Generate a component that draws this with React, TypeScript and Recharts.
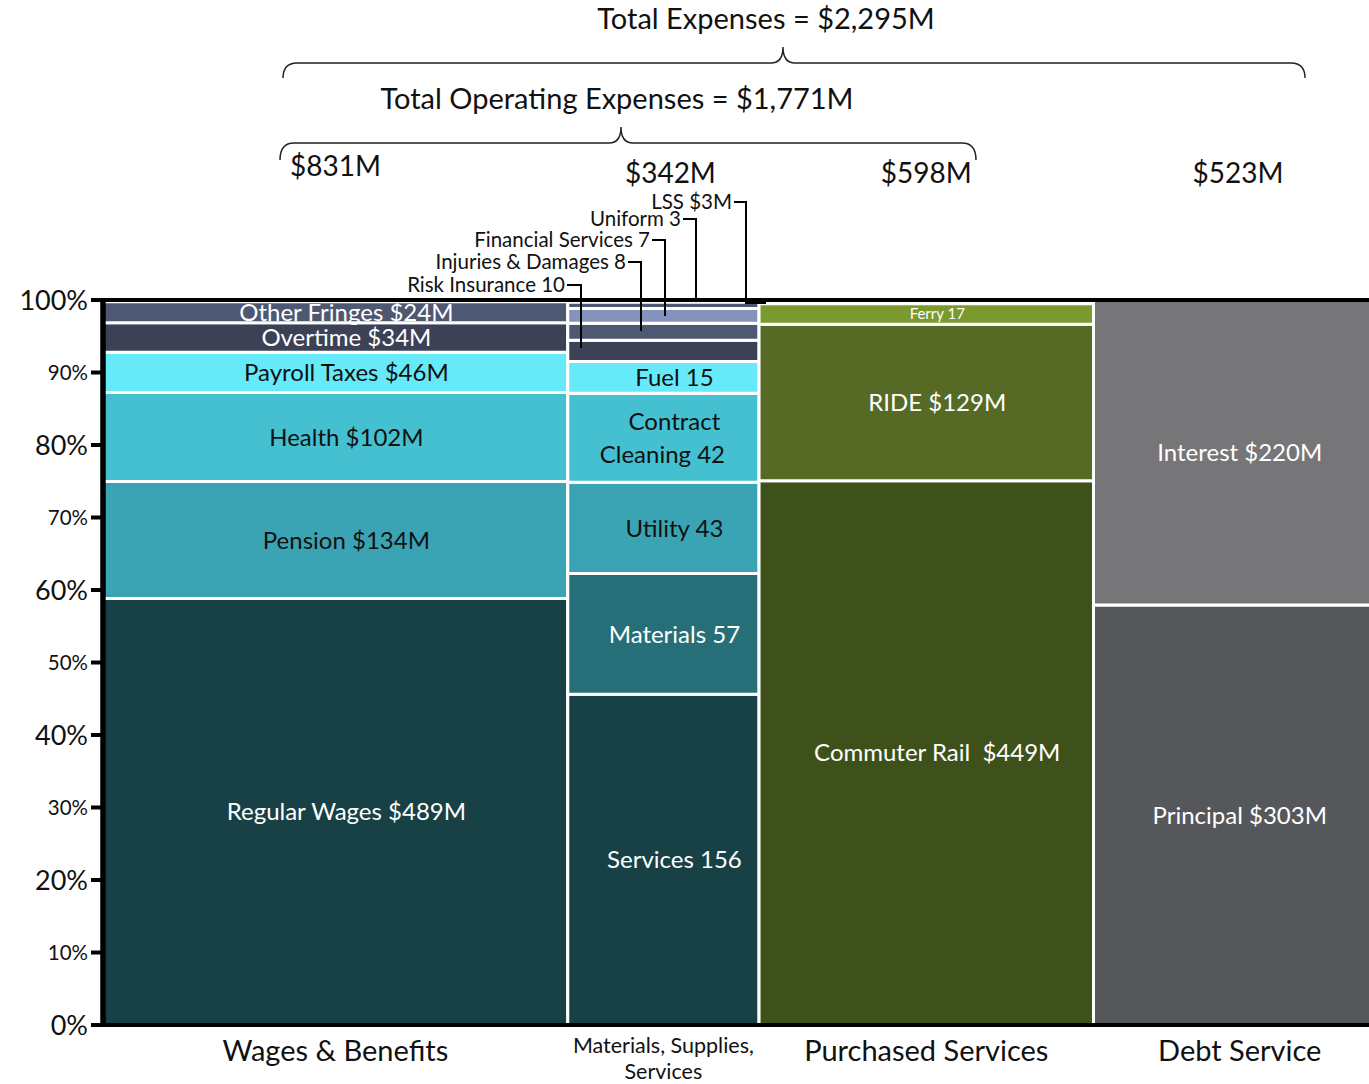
import React from 'react';
import { ComposedChart, XAxis, YAxis, ReferenceArea, ReferenceLine } from 'recharts';

const FONT = 'Lato, "Open Sans", sans-serif';

// columns of the mekko: name and total ($M)
const columns = ['Wages & Benefits', 'Materials, Supplies, Services', 'Purchased Services', 'Debt Service'];
const columnTotals = [831, 342, 598, 523];

// segments inside each column, bottom to top ($M)
const wagesItems = ['Regular Wages', 'Pension', 'Health', 'Payroll Taxes', 'Overtime', 'Other Fringes'];
const wagesValues = [489, 134, 102, 46, 34, 24];
const materialsItems = ['Services', 'Materials', 'Utility', 'Contract Cleaning', 'Fuel', 'Risk Insurance', 'Injuries & Damages', 'Financial Services', 'Uniform', 'LSS'];
const materialsValues = [156, 57, 43, 42, 15, 10, 8, 7, 3, 3];
const purchasedItems = ['Commuter Rail', 'RIDE', 'Ferry'];
const purchasedValues = [449, 129, 17];
const debtItems = ['Principal', 'Interest'];
const debtValues = [303, 220];

const yTicks = [0, 10, 20, 30, 40, 50, 60, 70, 80, 90, 100];

// colours
const wagesColors = ['#184146', '#3aa4b4', '#44c0d0', '#66e9f8', '#3c4155', '#4e5873'];
const materialsColors = ['#184146', '#266f78', '#3aa4b4', '#44c0d0', '#66e9f8', '#3c4155', '#4e5873', '#8492bd', '#4e5873', '#8492bd'];
const purchasedColors = ['#3f511b', '#566a25', '#7a9a2e'];
const debtColors = ['#56575b', '#767678'];

const W = 1400;
const H = 1084;
const Y_AXIS_W = 103;
const X_AXIS_H = 59;
const MARGIN = { top: 300, right: 14, bottom: 0, left: 0 };
const grandTotal = columnTotals.reduce((a, b) => a + b, 0);
const plotW = W - Y_AXIS_W - MARGIN.right;
const k = plotW / grandTotal;

const starts = columnTotals.map((_, i) => columnTotals.slice(0, i).reduce((a, b) => a + b, 0));
const mids = columnTotals.map((t, i) => starts[i] + t / 2);
const colPx = (i: number) => Y_AXIS_W + mids[i] * k;

type Cell = { col: number; x1: number; x2: number; y1: number; y2: number; fill: string; text?: string; color?: string; size?: number; dx?: number[] };

const money = (n: string, v: number) => `${n} $${v}M`;

function buildCells(): Cell[] {
  const groups = [
    { items: wagesItems, values: wagesValues, colors: wagesColors },
    { items: materialsItems, values: materialsValues, colors: materialsColors },
    { items: purchasedItems, values: purchasedValues, colors: purchasedColors },
    { items: debtItems, values: debtValues, colors: debtColors },
  ];
  const darkText = new Set(['Pension', 'Health', 'Payroll Taxes', 'Fuel', 'Contract Cleaning', 'Utility']);
  const outside = new Set(['Risk Insurance', 'Injuries & Damages', 'Financial Services', 'Uniform', 'LSS']);
  const out: Cell[] = [];
  groups.forEach((g, c) => {
    let acc = 0;
    g.values.forEach((v, i) => {
      const name = g.items[i];
      const y1 = (acc / columnTotals[c]) * 100;
      acc += v;
      const y2 = (acc / columnTotals[c]) * 100;
      let text: string | undefined;
      if (c === 1) {
        text = name === 'Contract Cleaning' ? `Contract\nCleaning ${v}` : `${name} ${v}`;
      } else if (name === 'Ferry') {
        text = `${name} ${v}`;
      } else if (name === 'Commuter Rail') {
        text = `${name}\u00a0 $${v}M`;
      } else {
        text = money(name, v);
      }
      if (outside.has(name)) text = undefined;
      out.push({
        col: c,
        x1: starts[c],
        x2: starts[c] + columnTotals[c],
        y1,
        y2,
        fill: g.colors[i],
        text,
        color: darkText.has(name) ? '#111' : '#fff',
        size: name === 'Ferry' ? 15 : 24,
        dx: c === 3 ? [0] : name === 'Contract Cleaning' ? [11, -1] : [11],
      });
    });
  });
  return out;
}

const cells = buildCells();

const CellLabel = (props: any) => {
  const { viewBox, text, color, size, dx } = props;
  if (!viewBox || !text) return null;
  const cx = viewBox.x + viewBox.width / 2;
  const cy = viewBox.y + viewBox.height / 2;
  const lines = String(text).split('\n');
  const lh = size * 1.35;
  const y0 = cy - ((lines.length - 1) * lh) / 2 + size * 0.36;
  return (
    <text textAnchor="middle" fill={color} fontSize={size} fontFamily={FONT}>
      {lines.map((l: string, i: number) => (
        <tspan key={i} x={cx + (dx?.[i] ?? dx?.[0] ?? 0)} y={y0 + i * lh}>{l}</tspan>
      ))}
    </text>
  );
};

const YTick = (props: any) => {
  const { x, y, payload } = props;
  const v = payload.value;
  const big = v % 20 === 0;
  return (
    <text x={x} y={y} dy={big ? 9.5 : 7} textAnchor="end" fontSize={big ? 27 : 20.5} fontFamily={FONT} fill="#111">
      {v}%
    </text>
  );
};

const XTick = (props: any) => {
  const { x, y, payload } = props;
  const i = mids.indexOf(payload.value);
  const name = columns[i] || '';
  if (i === 1) {
    return (
      <text textAnchor="middle" fontSize={21.5} fontFamily={FONT} fill="#111">
        <tspan x={x} y={y + 20}>Materials, Supplies,</tspan>
        <tspan x={x} y={y + 46}>Services</tspan>
      </text>
    );
  }
  return (
    <text x={x} y={y + 28} textAnchor="middle" fontSize={29} fontFamily={FONT} fill="#111">
      {name}
    </text>
  );
};

// leader-line labels for the thin materials segments
const leaderNames = materialsItems.slice(5);
const leaderValues = materialsValues.slice(5);
const leaderText = leaderNames.map((n, i) => (n === 'LSS' ? `${n} $${leaderValues[i]}M` : `${n} ${leaderValues[i]}`));
const leaderLayout = [
  { tx: 565, ty: 285, lx: 581, ly: 348 },
  { tx: 626, ty: 262, lx: 641, ly: 331 },
  { tx: 650, ty: 240, lx: 665, ly: 316 },
  { tx: 681, ty: 219, lx: 696, ly: 299 },
  { tx: 732, ty: 202, lx: 746, ly: 303 },
];

const totalOperating = columnTotals.slice(0, 3).reduce((a, b) => a + b, 0);

const brace = (x1: number, x2: number, tip: number, y: number, yTip: number, yEnd: number) =>
  `M${x1},${yEnd} Q${x1},${y} ${x1 + 14},${y} L${tip - 12},${y} Q${tip},${y} ${tip},${yTip} Q${tip},${y} ${tip + 12},${y} L${x2 - 14},${y} Q${x2},${y} ${x2},${yEnd}`;

export default function App() {
  return (
    <div style={{ position: 'absolute', left: 0, top: 0, width: 1369, height: 1084, overflow: 'hidden', background: '#fff' }}>
      <ComposedChart width={W} height={H} margin={MARGIN} data={[]}>
        <XAxis
          type="number"
          dataKey="x"
          domain={[0, grandTotal]}
          ticks={mids}
          interval={0}
          height={X_AXIS_H}
          tick={<XTick />}
          tickLine={false}
          axisLine={{ stroke: '#000', strokeWidth: 4 }}
          allowDataOverflow
        />
        <YAxis
          type="number"
          domain={[0, 100]}
          ticks={yTicks}
          interval={0}
          width={Y_AXIS_W}
          tick={<YTick />}
          tickSize={12}
          tickMargin={3}
          tickLine={{ stroke: '#000', strokeWidth: 4 }}
          axisLine={{ stroke: '#000', strokeWidth: 5 }}
          allowDataOverflow
        />
        {cells.map((c, i) => (
          <ReferenceArea
            key={i}
            x1={c.x1}
            x2={c.x2}
            y1={c.y1}
            y2={Math.min(c.y2, 100)}
            fill={c.fill}
            fillOpacity={1}
            stroke="#fff"
            strokeWidth={3}
            ifOverflow="hidden"
            label={<CellLabel text={c.text} color={c.color} size={c.size} dx={c.dx} />}
          />
        ))}
        <ReferenceLine y={100} stroke="#000" strokeWidth={4} />
        <ReferenceLine y={0} stroke="#000" strokeWidth={4} />
        <ReferenceLine x={0} stroke="#000" strokeWidth={5} />
      </ComposedChart>

      <svg width={1369} height={1084} style={{ position: 'absolute', left: 0, top: 0, pointerEvents: 'none' }}>
        <g fontFamily={FONT} fill="#111">
          <text x={766} y={29} fontSize={29} textAnchor="middle">{`Total Expenses = $${grandTotal + 1 === 2295 ? '2,295' : grandTotal.toLocaleString('en-US')}M`}</text>
          <text x={617} y={109} fontSize={29} textAnchor="middle">{`Total Operating Expenses = $${totalOperating.toLocaleString('en-US')}M`}</text>
          <text x={290} y={176} fontSize={28}>{`$${columnTotals[0]}M`}</text>
          <text x={colPx(1) + 7} y={183} fontSize={28} textAnchor="middle">{`$${columnTotals[1]}M`}</text>
          <text x={colPx(2)} y={183} fontSize={28} textAnchor="middle">{`$${columnTotals[2]}M`}</text>
          <text x={1238} y={183} fontSize={28} textAnchor="middle">{`$${columnTotals[3]}M`}</text>
          {leaderText.map((t, i) => (
            <text key={i} x={leaderLayout[i].tx} y={leaderLayout[i].ty + 7} fontSize={20.5} textAnchor="end">{t}</text>
          ))}
        </g>
        <g fill="none" stroke="#222" strokeWidth={1.5}>
          <path d={brace(283, 1305, 783, 63, 47, 78)} />
          <path d={brace(280, 976, 621, 143, 127, 160)} />
        </g>
        <g fill="none" stroke="#000" strokeWidth={2}>
          {leaderLayout.map((l, i) => (
            <path key={i} d={`M${l.tx + 2},${l.ty} H${l.lx} V${l.ly}${i === 4 ? ' H766' : ''}`} />
          ))}
        </g>
      </svg>
    </div>
  );
}
